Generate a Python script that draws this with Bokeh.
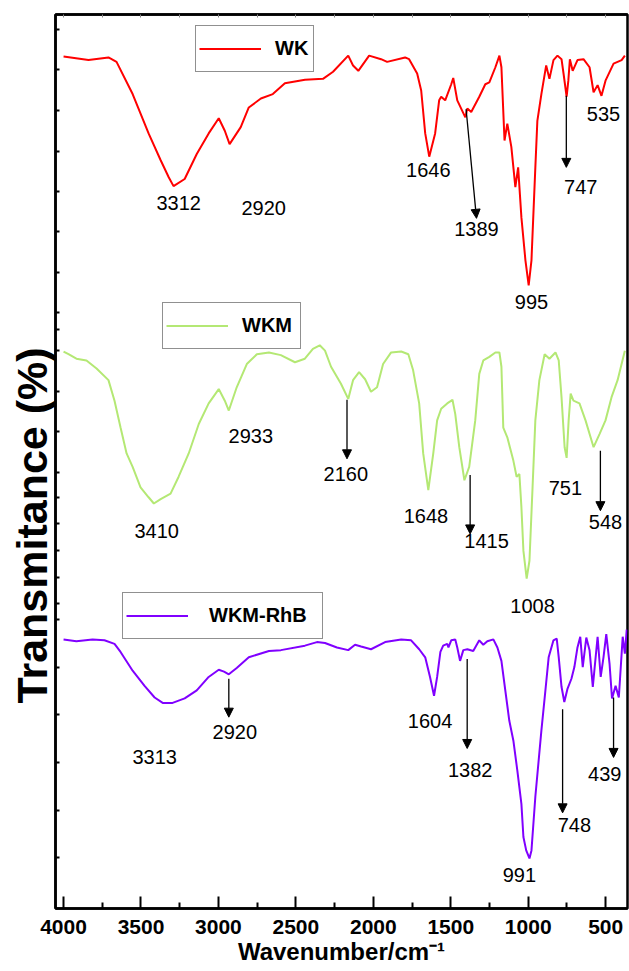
from bokeh.plotting import figure
from bokeh.models import (Range1d, LinearAxis, FixedTicker, CustomJSTickFormatter,
                          Legend, LegendItem, Arrow, NormalHead, ColumnDataSource, Title)
from bokeh.core.properties import value
from bokeh.embed import file_html
from bokeh.resources import INLINE

# FTIR spectra: wavenumber (cm-1) and stacked transmittance (offset, arbitrary %)
wk_wn = [4000, 3839, 3710, 3658, 3554, 3451, 3373, 3321, 3290, 3218, 3140, 3063, 2998, 2959,
         2928, 2856, 2804, 2726, 2649, 2571, 2441, 2325, 2260, 2162, 2131, 2097, 2027, 1950,
         1911, 1795, 1769, 1717, 1691, 1665, 1639, 1601, 1575, 1562, 1536, 1497, 1484, 1458,
         1406, 1393, 1368, 1316, 1277, 1251, 1212, 1186, 1173, 1153, 1135, 1109, 1083, 1065,
         1044, 1018, 997, 979, 954, 941, 915, 884, 863, 837, 811, 785, 772, 752, 741, 731,
         713, 682, 643, 604, 578, 552, 527, 501, 449, 397, 376]
wk_t = [95.3, 94.9, 95.2, 94.7, 91.1, 86.7, 83.7, 81.8, 80.8, 81.6, 84.4, 86.7, 88.4, 87.0,
        85.5, 87.4, 89.6, 90.6, 91.1, 92.3, 92.7, 92.8, 93.6, 95.4, 94.3, 93.7, 95.4, 95.0,
        94.7, 95.2, 95.0, 93.4, 91.5, 86.7, 84.1, 86.7, 90.4, 90.8, 90.4, 92.2, 92.9, 90.4,
        88.5, 89.5, 89.1, 90.8, 92.2, 92.4, 94.1, 95.4, 94.1, 85.9, 87.8, 85.2, 80.7, 82.9,
        77.3, 72.5, 69.7, 72.5, 82.9, 88.1, 91.1, 94.3, 92.8, 94.9, 95.4, 95.0, 93.4, 90.8, 92.6, 95.0,
        93.7, 94.9, 95.0, 94.1, 91.3, 92.1, 90.9, 92.6, 94.5, 94.9, 95.4]

wkm_wn = [4000, 3968, 3917, 3852, 3787, 3710, 3671, 3632, 3593, 3554, 3503, 3451, 3417, 3373,
          3309, 3257, 3192, 3127, 3063, 2998, 2959, 2933, 2882, 2817, 2752, 2674, 2597, 2506,
          2442, 2390, 2346, 2312, 2273, 2209, 2162, 2131, 2092, 2053, 2015, 1976, 1937, 1885,
          1820, 1774, 1743, 1704, 1678, 1645, 1613, 1588, 1562, 1523, 1489, 1471, 1445, 1412,
          1381, 1342, 1316, 1290, 1251, 1212, 1186, 1173, 1161, 1135, 1096, 1075, 1057, 1044,
          1031, 1010, 992, 972, 954, 928, 894, 863, 824, 803, 785, 765, 752, 739, 726, 708,
          669, 630, 578, 539, 501, 462, 423, 376]
wkm_t = [62.3, 62.0, 61.5, 61.3, 60.4, 59.1, 56.8, 53.8, 50.9, 49.4, 47.1, 46.0, 45.3, 45.8,
         46.4, 48.3, 50.9, 54.2, 56.5, 58.1, 56.8, 55.7, 58.3, 60.9, 62.0, 62.2, 61.9, 61.1,
         61.5, 62.6, 63.0, 62.4, 60.6, 58.7, 57.0, 59.1, 60.0, 59.2, 57.8, 58.3, 60.9, 62.2,
         62.3, 62.0, 60.2, 56.5, 50.9, 46.8, 50.9, 54.6, 55.9, 56.5, 56.9, 55.3, 51.6, 47.9,
         49.4, 54.6, 59.8, 61.3, 61.7, 62.2, 62.2, 60.6, 53.8, 52.7, 50.1, 48.3, 48.6, 44.9,
         40.0, 36.9, 38.9, 47.1, 54.6, 59.1, 62.0, 61.5, 62.2, 61.3, 57.2, 51.6, 50.4, 54.6, 57.6, 56.8,
         56.5, 54.6, 51.6, 53.1, 54.6, 57.2, 59.1, 62.4]

rhb_wn = [4000, 3917, 3813, 3736, 3671, 3632, 3554, 3477, 3412, 3360, 3296, 3218, 3140, 3063,
          2998, 2964, 2933, 2882, 2804, 2674, 2597, 2442, 2364, 2312, 2235, 2162, 2118, 2079,
          2015, 1924, 1820, 1756, 1704, 1665, 1634, 1608, 1588, 1567, 1549, 1523, 1515, 1497,
          1471, 1458, 1440, 1419, 1393, 1355, 1316, 1290, 1264, 1225, 1199, 1173, 1148, 1122,
          1096, 1070, 1044, 1031, 1013, 992, 979, 954, 915, 889, 868, 837, 816, 803, 785, 767,
          746, 721, 702, 682, 664, 648, 625, 604, 583, 552, 532, 514, 496, 475, 459, 436,
          415, 390, 376, 364]
rhb_t = [30.1, 29.9, 30.1, 30.0, 29.6, 28.7, 26.6, 24.9, 23.6, 23.0, 23.0, 23.5, 24.4, 25.9,
         26.7, 26.5, 26.2, 26.9, 28.1, 28.8, 28.9, 29.4, 29.8, 29.7, 29.2, 28.9, 29.5, 29.3,
         29.0, 29.8, 30.1, 30.0, 29.0, 28.1, 25.9, 23.8, 25.9, 28.7, 29.4, 29.6, 29.2, 30.0,
         30.1, 29.2, 27.7, 28.9, 29.0, 28.8, 30.0, 29.5, 29.9, 30.1, 29.2, 27.7, 24.4, 21.0,
         18.8, 15.4, 11.7, 8.0, 6.5, 5.6, 6.5, 12.5, 19.9, 24.4, 28.1, 30.0, 30.2, 28.1, 24.8, 23.1,
         24.6, 25.7, 27.0, 29.2, 30.4, 27.0, 30.3, 28.9, 24.8, 30.4, 25.9, 28.1, 30.7, 27.4, 23.5, 24.9,
         23.6, 30.4, 28.5, 31.2]

# peak labels
peak_text = ["3312", "2920", "1646", "1389", "995", "747", "535",
             "2933", "2160", "3410", "1648", "1415", "1008", "751", "548",
             "2920", "3313", "1604", "1382", "991", "748", "439"]
peak_x = [3257, 2708, 1645, 1334, 979, 661, 514,
          2791, 2178, 3399, 1660, 1269, 972, 760, 501,
          2894, 3412, 1634, 1375, 1057, 702, 506]
peak_y = [78.9, 78.3, 82.6, 76.0, 67.8, 80.7, 88.9,
          52.8, 48.6, 42.2, 43.9, 41.1, 33.8, 47.0, 43.2,
          19.7, 17.0, 21.0, 15.5, 3.8, 9.3, 15.1]

# pointer arrows towards peak labels
arrow_x0 = [1401, 754, 2170, 1375, 534, 2933, 1394, 778, 449]
arrow_y0 = [89.4, 90.9, 56.9, 48.5, 51.2, 25.7, 27.9, 22.3, 23.6]
arrow_x1 = [1334, 754, 2170, 1375, 534, 2933, 1394, 778, 449]
arrow_y1 = [77.2, 82.9, 50.3, 41.9, 44.5, 21.4, 17.9, 10.7, 16.9]

x_major = [500, 1000, 1500, 2000, 2500, 3000, 3500, 4000]
x_minor = [750, 1250, 1750, 2250, 2750, 3250, 3750]
y_ticks = [98.3, 93.9, 89.3, 84.7, 80.2, 75.7, 71.1, 66.7, 64.8, 62.4, 57.8, 53.4, 48.8,
           46.0, 43.1, 40.0, 37.0, 34.1, 32.3, 27.0, 21.7, 16.3, 11.0, 5.7]

FONT = "Liberation Sans"
blank = CustomJSTickFormatter(code="return ''")

p = figure(width=629, height=971, output_backend="svg", toolbar_location=None,
           x_range=Range1d(4052, 359), y_range=Range1d(0, 100),
           min_border_left=55, min_border_right=2, min_border_top=14, min_border_bottom=63)
p.grid.visible = False
p.background_fill_color = "white"
p.border_fill_color = "white"
p.outline_line_color = "black"
p.outline_line_width = 2.5
p.outline_line_alpha = 1.0

xa = p.xaxis[0]
xa.ticker = FixedTicker(ticks=x_major, minor_ticks=x_minor)
xa.major_tick_in = 12
xa.major_tick_out = 0
xa.minor_tick_in = 6
xa.minor_tick_out = 0
xa.major_tick_line_width = 2
xa.minor_tick_line_width = 2
xa.axis_line_width = 2.5
xa.major_label_standoff = 11
xa.major_label_text_font = FONT
xa.major_label_text_font_size = "21px"
xa.major_label_text_font_style = "bold"
xa.major_label_text_color = "black"
xa.axis_label = "Wavenumber/cm\u207b\u00b9"
xa.axis_label_text_font = FONT
xa.axis_label_text_font_size = "24px"
xa.axis_label_text_font_style = "bold"
xa.axis_label_text_color = "black"
xa.axis_label_standoff = 1

ya = p.yaxis[0]
ya.ticker = FixedTicker(ticks=y_ticks, minor_ticks=[])
ya.formatter = blank
ya.major_tick_in = 4
ya.major_tick_out = 0
ya.minor_tick_in = 0
ya.minor_tick_out = 0
ya.major_tick_line_width = 2
ya.axis_line_width = 2.5
ya.major_label_standoff = 0

top = LinearAxis(ticker=FixedTicker(ticks=x_major, minor_ticks=x_minor), formatter=blank,
                 major_tick_in=3, major_tick_out=0, minor_tick_in=3, minor_tick_out=0,
                 major_tick_line_color="#888888", minor_tick_line_color="#888888",
                 major_label_standoff=0, axis_line_width=2.5)
p.add_layout(top, "above")

# vertical axis title in the left margin, starting above the lower part of the frame
p.add_layout(Title(text="Transmitance (%)", align="left", offset=205, standoff=0,
                   text_font=FONT, text_font_size="43px", text_font_style="bold",
                   text_color="black"), "left")

r_wk = p.line(wk_wn, wk_t, line_color="#ff0000", line_width=2)
r_wkm = p.line(wkm_wn, wkm_t, line_color="#b4e874", line_width=2)
r_rhb = p.line(rhb_wn, rhb_t, line_color="#8000ff", line_width=2)


def box_legend(label, renderer, loc, label_width, standoff):
    leg = Legend(items=[LegendItem(label=label, renderers=[renderer])], location=loc,
                 padding=3, margin=0, spacing=0, glyph_width=62, glyph_height=39,
                 label_standoff=standoff, label_width=label_width,
                 label_text_font=FONT, label_text_font_size="20px",
                 label_text_font_style="bold", label_text_color="black",
                 border_line_color="#222222", border_line_width=1.5,
                 background_fill_color="white", background_fill_alpha=1.0)
    p.add_layout(leg)


box_legend("WK", r_wk, (140, 836), 35, 14)
box_legend("WKM", r_wkm, (107, 559), 55, 14)
box_legend("WKM-RhB", r_rhb, (67, 269), 110, 21)

p.text(x=peak_x, y=peak_y, text=peak_text, text_font=value(FONT), text_font_size="20px",
       text_align="center", text_baseline="middle", text_color="black")

arrows = ColumnDataSource(dict(x0=arrow_x0, y0=arrow_y0, x1=arrow_x1, y1=arrow_y1))
p.add_layout(Arrow(source=arrows, x_start="x0", y_start="y0", x_end="x1", y_end="y1",
                   line_color="black", line_width=1.3,
                   end=NormalHead(size=9, fill_color="black", line_color="black", line_width=1)))

open("out.html", "w").write(file_html(p, INLINE))
